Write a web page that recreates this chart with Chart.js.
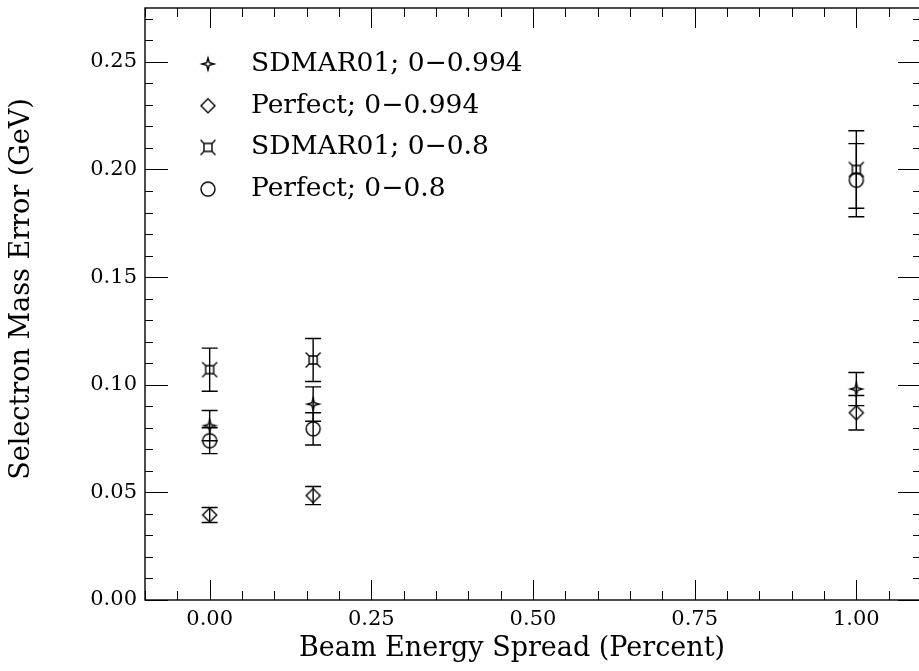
<!DOCTYPE html>
<html>
<head>
<meta charset="utf-8">
<script src="https://cdn.jsdelivr.net/npm/chart.js@4.4.1/dist/chart.umd.min.js"></script>
<style>
  body { margin: 0; overflow: hidden; background: #fff; }
  canvas { display: block; }
</style>
</head>
<body>
<canvas id="chart" width="925" height="671"></canvas>
<script>
// beam energy spread (percent)
const spread = [0, 0.16, 1.0];

// selectron mass error (GeV) and errors
const sdmarFull = [0.081, 0.091, 0.098];
const sdmarFullErr = [0.007, 0.008, 0.0077];
const perfectFull = [0.0395, 0.0485, 0.087];
const perfectFullErr = [0.0035, 0.0042, 0.008];
const sdmarCut = [0.107, 0.1115, 0.200];
const sdmarCutErr = [0.010, 0.010, 0.018];
const perfectCut = [0.074, 0.0795, 0.195];
const perfectCutErr = [0.006, 0.0075, 0.017];

const seriesLabels = ['SDMAR01; 0\u22120.994', 'Perfect; 0\u22120.994', 'SDMAR01; 0\u22120.8', 'Perfect; 0\u22120.8'];
const xTickValues = [0, 0.25, 0.5, 0.75, 1.0];
const yTickValues = [0, 0.05, 0.10, 0.15, 0.20, 0.25];
const xTitle = 'Beam Energy Spread (Percent)';
const yTitle = 'Selectron Mass Error (GeV)';

const FONT = '"DejaVu Serif", serif';

// little canvases used as point styles
function makeMarker(kind) {
  const c = document.createElement('canvas');
  c.width = 24; c.height = 24;
  const g = c.getContext('2d');
  g.translate(12, 12);
  g.strokeStyle = '#000';
  g.lineWidth = 1.4;
  g.beginPath();
  if (kind === 'star') {
    const R = 6, r = 1.8;
    for (let k = 0; k < 8; k++) {
      const a = k * Math.PI / 4 - Math.PI / 2;
      const rr = k % 2 ? r : R;
      const px = rr * Math.cos(a), py = rr * Math.sin(a);
      k ? g.lineTo(px, py) : g.moveTo(px, py);
    }
    g.closePath();
  } else if (kind === 'diamond') {
    g.moveTo(0, -7); g.lineTo(7, 0); g.lineTo(0, 7); g.lineTo(-7, 0); g.closePath();
  } else if (kind === 'squarecross') {
    g.rect(-4, -4, 8, 8);
    g.moveTo(-4, -4); g.lineTo(-7.5, -7.5);
    g.moveTo(4, -4); g.lineTo(7.5, -7.5);
    g.moveTo(-4, 4); g.lineTo(-7.5, 7.5);
    g.moveTo(4, 4); g.lineTo(7.5, 7.5);
  } else {
    g.arc(0, 0, 7, 0, Math.PI * 2);
  }
  g.stroke();
  return c;
}

const markers = [makeMarker('star'), makeMarker('diamond'), makeMarker('squarecross'), makeMarker('circle')];
const values = [sdmarFull, perfectFull, sdmarCut, perfectCut];
const errors = [sdmarFullErr, perfectFullErr, sdmarCutErr, perfectCutErr];

const datasets = values.map((arr, i) => ({
  label: seriesLabels[i],
  data: spread.map((x, j) => ({ x: x, y: arr[j] })),
  err: errors[i],
  pointStyle: markers[i],
  pointRadius: 12,
  pointHoverRadius: 12,
  showLine: false
}));

// error bars through the scales
const errorBars = {
  id: 'errorBars',
  beforeDatasetsDraw(chart) {
    const { ctx, scales: { x, y } } = chart;
    ctx.save();
    ctx.strokeStyle = '#000';
    ctx.lineWidth = 1.4;
    chart.data.datasets.forEach(ds => {
      ds.data.forEach((p, j) => {
        const px = x.getPixelForValue(p.x);
        const top = y.getPixelForValue(p.y + ds.err[j]);
        const bot = y.getPixelForValue(p.y - ds.err[j]);
        ctx.beginPath();
        ctx.moveTo(px, top); ctx.lineTo(px, bot);
        ctx.moveTo(px - 8, top); ctx.lineTo(px + 8, top);
        ctx.moveTo(px - 8, bot); ctx.lineTo(px + 8, bot);
        ctx.stroke();
      });
    });
    ctx.restore();
  }
};

// box with inward ticks on all sides
const frame = {
  id: 'frame',
  afterDraw(chart) {
    const { ctx, chartArea: a, scales: { x, y } } = chart;
    ctx.save();
    ctx.strokeStyle = '#000';
    ctx.lineWidth = 1.4;
    ctx.strokeRect(a.left, a.top, a.right - a.left, a.bottom - a.top);
    ctx.beginPath();
    for (let i = -2; i <= 22; i++) {
      const v = i * 0.05;
      const px = Math.round(x.getPixelForValue(v)) + 0.5;
      const len = i % 5 === 0 ? 20 : 9;
      ctx.moveTo(px, a.bottom); ctx.lineTo(px, a.bottom - len);
      ctx.moveTo(px, a.top); ctx.lineTo(px, a.top + len);
    }
    for (let i = 0; i <= 27; i++) {
      const v = i * 0.01;
      const py = Math.round(y.getPixelForValue(v)) + 0.5;
      const len = i % 5 === 0 ? 23 : 8;
      ctx.moveTo(a.left, py); ctx.lineTo(a.left + len, py);
      ctx.moveTo(a.right, py); ctx.lineTo(a.right - len, py);
    }
    ctx.lineWidth = 1;
    ctx.stroke();

    // axis titles (original centres them on the uncropped frame)
    ctx.fillStyle = '#000';
    ctx.font = '27px ' + FONT;
    ctx.textAlign = 'center';
    ctx.textBaseline = 'middle';
    ctx.fillText(xTitle, a.left + 367, 649);
    ctx.translate(22, a.top + 281);
    ctx.rotate(-Math.PI / 2);
    ctx.fillText(yTitle, 0, 0);
    ctx.restore();
  }
};

// legend in the upper-left corner of the plot
const cornerLegend = {
  id: 'cornerLegend',
  afterDraw(chart) {
    const { ctx, chartArea: a } = chart;
    ctx.save();
    ctx.fillStyle = '#000';
    ctx.font = '26.5px ' + FONT;
    ctx.textBaseline = 'middle';
    chart.data.datasets.forEach((ds, i) => {
      const cy = a.top + 56 + i * 41.7;
      ctx.drawImage(ds.pointStyle, a.left + 63 - 12, cy - 12);
      ctx.fillText(ds.label, a.left + 106, cy);
    });
    ctx.restore();
  }
};

new Chart(document.getElementById('chart'), {
  type: 'scatter',
  data: { datasets: datasets },
  plugins: [errorBars, frame, cornerLegend],
  options: {
    responsive: false,
    animation: false,
    events: [],
    layout: { autoPadding: false, padding: { top: 8, right: 4, left: 0, bottom: 0 } },
    plugins: { legend: { display: false }, tooltip: { enabled: false } },
    scales: {
      x: {
        type: 'linear',
        min: -0.1,
        max: 1.1,
        afterBuildTicks: s => { s.ticks = xTickValues.map(v => ({ value: v })); },
        afterFit: s => { s.height = 71; s.paddingLeft = 0; s.paddingRight = 0; },
        grid: { display: false, drawTicks: false },
        border: { display: false },
        ticks: {
          padding: 7,
          color: '#000',
          font: { family: FONT, size: 21 },
          maxRotation: 0,
          callback: v => v.toFixed(2)
        }
      },
      y: {
        type: 'linear',
        min: 0,
        max: 0.275,
        afterBuildTicks: s => { s.ticks = yTickValues.map(v => ({ value: v })); },
        afterFit: s => { s.width = 145; s.paddingTop = 0; s.paddingBottom = 0; },
        grid: { display: false, drawTicks: false },
        border: { display: false },
        ticks: {
          padding: 8,
          color: '#000',
          font: { family: FONT, size: 21 },
          callback: v => v.toFixed(2)
        }
      }
    }
  }
});
</script>
</body>
</html>
